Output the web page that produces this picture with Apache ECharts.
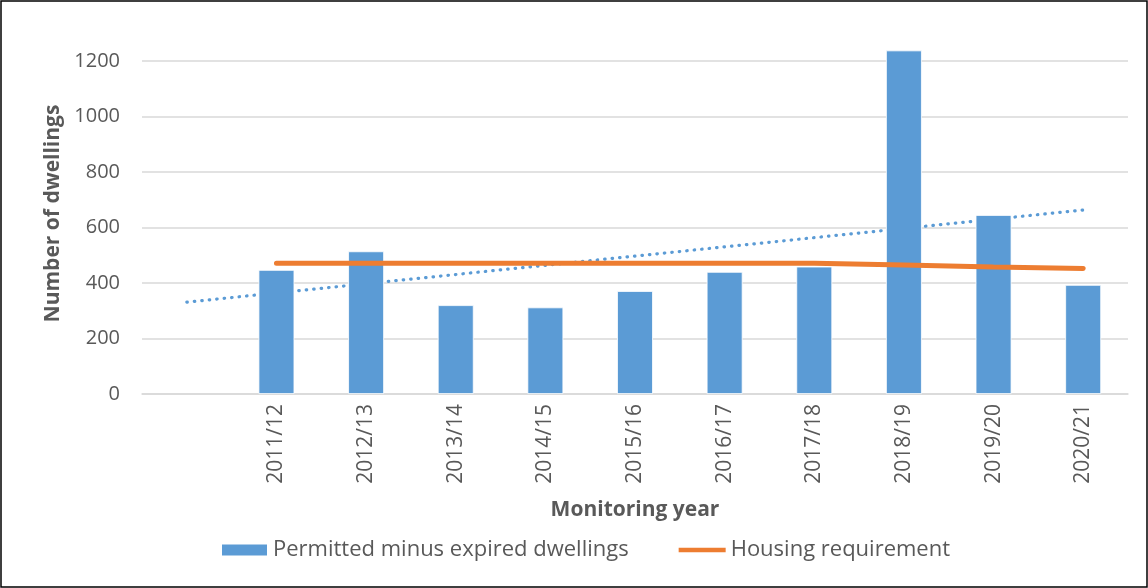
<!DOCTYPE html>
<html>
<head>
<meta charset="utf-8">
<script src="https://cdn.jsdelivr.net/npm/echarts@6/dist/echarts.min.js"></script>
<style>
  html, body { margin: 0; padding: 0; background: #fff; }
  #chart { width: 1148px; height: 588px; }
</style>
</head>
<body>
<div id="chart"></div>
<script>
// first category is left blank in the source chart
var years = ['', '2011/12', '2012/13', '2013/14', '2014/15', '2015/16', '2016/17', '2017/18', '2018/19', '2019/20', '2020/21'];
var permitted = ['-', 447, 514, 320, 312, 371, 440, 459, 1238, 645, 393];
var requirement = ['-', 471, 471, 471, 471, 471, 471, 471, 465, 458, 452];
// linear trend of permitted dwellings: only its two end values
var trend = [331, '-', '-', '-', '-', '-', '-', '-', '-', '-', 663];
var yTicks = [0, 200, 400, 600, 800, 1000, 1200];

var font = 'Open Sans';
var grey = '#595959';

var chart = echarts.init(document.getElementById('chart'));

chart.setOption({
  animation: false,
  textStyle: { fontFamily: font },
  graphic: [{
    type: 'rect',
    shape: { x: 1, y: 1, width: 1146, height: 586 },
    style: { fill: 'none', stroke: '#000', lineWidth: 1.5 },
    z: 100
  }],
  grid: {
    left: 142,
    right: 20,
    top: 61,
    bottom: 194
  },
  legend: {
    bottom: 22,
    left: 215,
    itemWidth: 47,
    itemHeight: 13,
    itemGap: 50,
    textStyle: { fontFamily: font, fontSize: 22, color: grey },
    data: [
      { name: 'Permitted minus expired dwellings', icon: 'rect' },
      { name: 'Housing requirement', icon: 'path://M0 0 H52 V5 H0 Z' }
    ]
  },
  xAxis: {
    type: 'category',
    data: years,
    name: 'Monitoring year',
    nameLocation: 'middle',
    nameGap: 106,
    nameTextStyle: { fontFamily: font, fontSize: 21, fontWeight: 'bold', color: grey },
    axisLine: { lineStyle: { color: '#D9D9D9', width: 1.5 } },
    axisTick: { show: false },
    axisLabel: {
      rotate: 90,
      margin: 10,
      fontSize: 21,
      color: grey,
      interval: 0
    }
  },
  yAxis: {
    type: 'value',
    min: 0,
    max: yTicks[yTicks.length - 1],
    interval: 200,
    name: 'Number of dwellings',
    nameLocation: 'middle',
    nameRotate: 90,
    nameGap: 78,
    nameTextStyle: { fontFamily: font, fontSize: 21, fontWeight: 'bold', color: grey, padding: [0, 0, 0, 28] },
    axisLine: { show: false },
    axisTick: { show: false },
    axisLabel: {
      fontSize: 20,
      color: grey,
      margin: 22,
      formatter: function (v) { return String(v); }
    },
    splitLine: { lineStyle: { color: '#D9D9D9', width: 1.5 } }
  },
  series: [{
    name: 'Trend',
    type: 'line',
    data: trend,
    connectNulls: true,
    symbol: 'none',
    silent: true,
    z: 1,
    lineStyle: { color: '#5B9BD5', width: 3.2, type: [0.5, 7], cap: 'round' }
  }, {
    name: 'Permitted minus expired dwellings',
    type: 'bar',
    data: permitted,
    barWidth: '40%',
    clip: false,
    z: 2,
    itemStyle: { color: '#5B9BD5', borderColor: '#fff', borderWidth: 0.8 }
  }, {
    name: 'Housing requirement',
    type: 'line',
    data: requirement,
    symbol: 'none',
    z: 3,
    lineStyle: { color: '#ED7D31', width: 5, cap: 'round' },
    itemStyle: { color: '#ED7D31' }
  }]
});
</script>
</body>
</html>
